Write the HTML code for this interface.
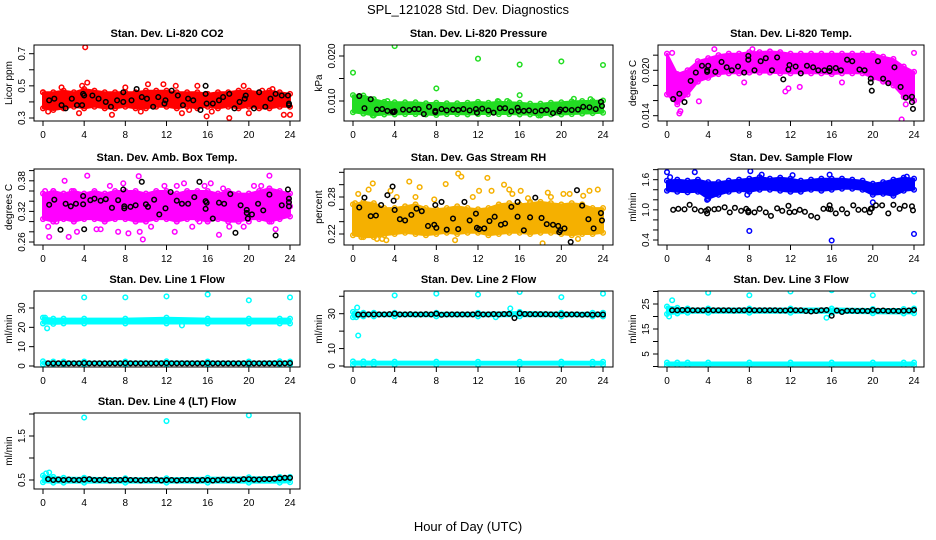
<!DOCTYPE html>
<html><head><meta charset="utf-8"><style>
body{margin:0;background:#fff;}
svg{display:block;font-family:"Liberation Sans",Arial,sans-serif;}
</style></head><body>
<svg id="chart" width="936" height="540" viewBox="0 0 936 540">
<text x="468" y="14" text-anchor="middle" font-size="13">SPL_121028  Std. Dev. Diagnostics</text>
<text x="468" y="531" text-anchor="middle" font-size="13">Hour of Day (UTC)</text>
</svg>
<script>
// ---- shared data ----
const HOURS=[0,1,2,3,4,5,6,7,8,9,10,11,12,13,14,15,16,17,18,19,20,21,22,23,24];
const HB=[0,1,2,4,8,12,16,20,23,24];
const BX=[0.5,1,1.5,2,2.5,3,3.5,4,4.5,5,5.5,6,6.5,7,7.5,8,8.5,9,9.5,10,10.5,11,11.5,12,12.5,13,13.5,14,14.5,15,15.5,16,16.5,17,17.5,18,18.5,19,19.5,20,20.5,21,21.5,22,22.5,23,23.5,24];
const XTICKS=[0,4,8,12,16,20,24];

// P1 CO2
const co2Lo=[0.36,0.35,0.36,0.37,0.36,0.37,0.36,0.36,0.37,0.36,0.36,0.37,0.37,0.36,0.37,0.36,0.37,0.36,0.37,0.36,0.37,0.36,0.36,0.37,0.37];
const co2Hi=[0.46,0.46,0.47,0.46,0.48,0.47,0.46,0.46,0.46,0.46,0.47,0.47,0.47,0.46,0.46,0.46,0.45,0.46,0.46,0.47,0.47,0.46,0.47,0.46,0.45];
const co2OutX=[0,0.5,1.8,3.5,4.1,4.3,6.7,9.5,10.2,11.7,13.5,15.0,15.9,18.1,19.5,20,22.3,23.4,24,8,14.2,12.9,3.8,16.4,21.3];
const co2OutY=[0.46,0.34,0.49,0.33,0.74,0.52,0.32,0.34,0.51,0.51,0.33,0.50,0.31,0.30,0.50,0.33,0.48,0.32,0.32,0.49,0.35,0.50,0.50,0.34,0.47];
const co2BX=[0.6,1.1,1.8,2.2,2.8,3.3,3.8,3.9,4.0,4.8,5.4,6.1,6.6,7.2,7.8,7.8,8.6,9.1,9.6,10.1,10.7,11.2,11.8,11.9,12.5,13.1,13.6,14.1,14.6,15.3,15.8,15.8,15.9,16.5,17.1,17.5,18.1,18.6,19.1,19.6,19.7,20.5,21.0,21.6,22.1,22.6,23.2,23.8,23.9,23.9];
const co2BY=[0.41,0.42,0.38,0.36,0.42,0.38,0.38,0.45,0.44,0.44,0.42,0.40,0.37,0.41,0.46,0.40,0.41,0.48,0.43,0.42,0.37,0.43,0.39,0.41,0.47,0.44,0.38,0.42,0.41,0.35,0.50,0.45,0.39,0.39,0.41,0.43,0.45,0.36,0.40,0.42,0.44,0.36,0.46,0.37,0.42,0.45,0.44,0.44,0.39,0.38];

// P2 pressure
const prLo=[0.0075,0.0072,0.0068,0.0070,0.0070,0.0071,0.0071,0.0070,0.0069,0.0071,0.0071,0.0070,0.0071,0.0071,0.0071,0.0071,0.0070,0.0070,0.0068,0.0070,0.0070,0.0071,0.0072,0.0073,0.0074];
const prHi=[0.0113,0.0112,0.0104,0.0098,0.0097,0.0097,0.0097,0.0095,0.0096,0.0095,0.0095,0.0096,0.0098,0.0096,0.0098,0.0097,0.0096,0.0094,0.0094,0.0096,0.0097,0.0099,0.0100,0.0100,0.0101];
const prOutX=[0,4,8,12,16,16,20,24,21.2,22.8,1.9,17.8,3.3,13.9,14.8];
const prOutY=[0.0163,0.0222,0.0128,0.0194,0.0181,0.0113,0.0188,0.0180,0.0105,0.0104,0.0068,0.0068,0.0100,0.0100,0.0100];
const prBX=[0.6,1.1,1.7,2.3,2.8,3.3,3.8,3.9,4.0,4.8,5.4,5.9,6.3,6.8,7.3,7.9,7.9,8.5,9.0,9.6,10.1,10.6,11.2,11.8,11.9,12.4,13.0,13.5,14.1,14.6,15.2,15.8,15.9,16.4,16.9,17.5,18.1,18.6,19.2,19.8,19.9,20.4,21.0,21.6,22.1,22.7,23.3,23.8,23.9];
const prBY=[0.0111,0.0084,0.0104,0.0081,0.0082,0.0078,0.0076,0.0075,0.0077,0.0081,0.0080,0.0082,0.0082,0.0071,0.0087,0.0078,0.0075,0.0082,0.0079,0.0081,0.0080,0.0082,0.0079,0.0082,0.0074,0.0083,0.0079,0.0074,0.0084,0.0084,0.0077,0.0085,0.0078,0.0078,0.0079,0.0077,0.0079,0.0080,0.0073,0.0077,0.0081,0.0081,0.0080,0.0081,0.0087,0.0086,0.0082,0.0098,0.0089];

// P3 Li-820 temp
const tLo=[0.0168,0.0155,0.0168,0.0185,0.0190,0.0195,0.0196,0.0196,0.0197,0.0197,0.0197,0.0196,0.0196,0.0196,0.0196,0.0196,0.0195,0.0196,0.0196,0.0196,0.0190,0.0185,0.0180,0.0165,0.0160];
const tHi=[0.0222,0.0195,0.0200,0.0212,0.0216,0.0220,0.0222,0.0222,0.0224,0.0224,0.0225,0.0224,0.0222,0.0222,0.0222,0.0222,0.0222,0.0222,0.0222,0.0222,0.0222,0.0218,0.0215,0.0205,0.0198];
const tOutX=[0.5,1.2,3.1,4.6,7.5,8.3,11.5,12.9,17.0,22.8,23.2,24,11.8,1.3,0.2];
const tOutY=[0.0223,0.0143,0.0159,0.0228,0.0184,0.0228,0.0172,0.0178,0.0184,0.0135,0.0155,0.0223,0.0176,0.0146,0.0170];
const tBX=[0.6,1.2,1.7,2.3,2.8,3.4,3.9,3.9,4.0,4.7,5.3,5.8,6.3,6.9,7.5,7.9,7.9,8.5,9.1,9.6,10.2,10.7,11.3,11.8,11.9,12.5,13.0,13.6,14.2,14.7,15.3,15.8,15.8,16.4,16.9,17.5,18.0,18.7,19.2,19.8,19.8,19.9,20.5,21.0,21.5,22.1,22.7,23.2,23.8,23.8,23.9];
const tBY=[0.0162,0.0169,0.0158,0.0186,0.0197,0.0206,0.0198,0.0200,0.0206,0.0198,0.0211,0.0204,0.0200,0.0205,0.0197,0.0219,0.0214,0.0200,0.0212,0.0216,0.0200,0.0217,0.0188,0.0201,0.0207,0.0205,0.0196,0.0206,0.0204,0.0200,0.0200,0.0203,0.0199,0.0203,0.0200,0.0214,0.0212,0.0201,0.0200,0.0189,0.0184,0.0173,0.0212,0.0189,0.0183,0.0204,0.0178,0.0164,0.0165,0.0158,0.0149];

// P4 ambient box temp
const aLo=[0.305,0.300,0.305,0.300,0.305,0.305,0.300,0.305,0.305,0.300,0.300,0.305,0.305,0.300,0.305,0.305,0.300,0.305,0.300,0.300,0.305,0.305,0.300,0.305,0.310];
const aHi=[0.355,0.360,0.355,0.360,0.355,0.360,0.355,0.360,0.360,0.360,0.355,0.360,0.360,0.355,0.360,0.360,0.360,0.355,0.360,0.355,0.355,0.360,0.365,0.360,0.355];
const aOutX=[0.2,0.5,0.6,1.3,2.1,2.5,3.3,4.3,5.2,5.6,7.3,7.8,8.3,9.3,9.7,9.4,11.8,12.8,13.7,15.2,16.3,17.1,17.5,18.1,20.0,21.2,22.0,22.6,22.2,24,20.5,6.5,13,15.7,1,2.8,19.5,10.5,14.5];
const aOutY=[0.36,0.29,0.27,0.30,0.38,0.27,0.28,0.39,0.285,0.285,0.28,0.375,0.277,0.389,0.265,0.28,0.37,0.28,0.375,0.30,0.375,0.274,0.365,0.29,0.30,0.37,0.39,0.285,0.30,0.33,0.37,0.37,0.37,0.37,0.36,0.36,0.29,0.29,0.29];
const aBX=[0.6,1.1,1.7,2.2,2.7,3.2,3.9,3.9,4.0,4.6,5.0,5.6,6.1,6.7,7.3,7.8,7.9,7.9,8.5,9.0,9.6,10.0,10.2,10.8,11.3,11.9,12.4,13.0,13.5,14.1,14.7,15.2,15.8,15.8,15.9,16.5,17.1,17.6,18.2,18.7,19.2,19.8,19.8,19.9,20.3,20.9,21.4,22.0,22.6,23.2,23.8,23.9,23.9,23.9];
const aBY=[0.333,0.343,0.284,0.335,0.330,0.335,0.350,0.334,0.285,0.342,0.345,0.341,0.344,0.327,0.342,0.363,0.330,0.326,0.329,0.332,0.378,0.334,0.329,0.343,0.314,0.326,0.358,0.341,0.335,0.335,0.348,0.378,0.340,0.325,0.337,0.306,0.337,0.335,0.354,0.278,0.332,0.323,0.317,0.306,0.314,0.335,0.322,0.353,0.273,0.332,0.363,0.338,0.345,0.330];

// P5 gas stream RH
const rhLo=[0.218,0.215,0.215,0.218,0.220,0.222,0.220,0.218,0.220,0.222,0.220,0.222,0.222,0.218,0.220,0.222,0.222,0.220,0.222,0.222,0.220,0.218,0.220,0.220,0.222];
const rhHi=[0.268,0.272,0.270,0.262,0.262,0.265,0.268,0.262,0.260,0.262,0.265,0.262,0.260,0.262,0.268,0.270,0.268,0.270,0.272,0.270,0.268,0.270,0.268,0.262,0.262];
const rhOutX=[0.2,0.8,1.9,2.3,3.2,3.6,5.4,6.4,7.8,8.9,10.1,10.4,11.5,12.1,12.9,14.5,15.0,16.1,17.0,18.7,19.0,20.2,21.6,22.7,23.5,0.5,2.8,4.2,9.8,13.3,16.8,20.8,1.5,6.0,22.1,15.3,18.2];
const rhOutY=[0.270,0.215,0.302,0.212,0.210,0.290,0.305,0.296,0.276,0.301,0.318,0.313,0.280,0.290,0.311,0.300,0.292,0.290,0.272,0.287,0.280,0.285,0.212,0.290,0.292,0.285,0.212,0.280,0.210,0.290,0.278,0.285,0.292,0.280,0.282,0.285,0.205];
const rhBX=[0.6,1.1,1.7,2.2,2.7,3.3,3.8,3.9,4.0,4.5,5.0,5.6,6.1,6.6,7.2,7.8,7.9,8.0,8.5,9.0,9.6,10.1,10.7,11.2,11.8,11.9,12.1,12.6,13.1,13.6,14.2,14.6,15.2,15.8,15.8,16.4,17.0,17.5,18.1,18.6,19.2,19.7,19.8,19.9,20.3,20.9,21.5,22.0,22.6,23.1,23.8,23.9];
const rhBY=[0.263,0.279,0.249,0.250,0.267,0.283,0.297,0.274,0.259,0.244,0.242,0.251,0.261,0.257,0.233,0.235,0.267,0.230,0.272,0.227,0.245,0.228,0.272,0.242,0.253,0.230,0.228,0.229,0.241,0.248,0.235,0.237,0.264,0.272,0.248,0.226,0.247,0.279,0.246,0.236,0.235,0.233,0.223,0.226,0.229,0.207,0.291,0.266,0.244,0.229,0.254,0.242];

// P6 sample flow
const sfLo=[1.38,1.36,1.35,1.36,1.22,1.30,1.36,1.38,1.36,1.40,1.40,1.38,1.36,1.36,1.40,1.38,1.40,1.42,1.42,1.40,1.30,1.32,1.28,1.38,1.40];
const sfHi=[1.58,1.60,1.58,1.60,1.55,1.55,1.58,1.60,1.62,1.65,1.62,1.64,1.62,1.58,1.60,1.62,1.62,1.62,1.60,1.58,1.52,1.55,1.60,1.64,1.62];
const sfOutX=[0,2.7,8.1,8,16,24,20,3.9,0.3,12.2,15.8,9.2,7.8,23.3];
const sfOutY=[1.75,1.75,1.77,0.58,0.39,0.52,1.15,1.20,1.65,1.69,1.70,1.70,1.30,1.66];
const sfBX=[0.6,1.1,1.7,2.2,2.7,3.3,3.8,3.9,4.0,4.6,5.0,5.6,6.1,6.6,7.2,7.7,7.9,7.9,8.5,9.0,9.6,10.1,10.7,11.2,11.8,11.9,12.4,12.9,13.4,14.0,14.6,15.2,15.7,15.8,15.9,16.4,17.0,17.5,18.1,18.6,19.2,19.7,19.8,19.9,20.3,20.9,21.5,22.0,22.6,23.1,23.8,23.9];
const sfBY=[1.0,1.02,1.01,1.1,1.01,0.98,0.98,0.93,1.01,1.01,1.02,1.05,0.95,1.04,0.98,1.02,0.95,0.98,0.95,1.02,0.95,0.88,1.03,0.98,1.08,0.95,0.96,1.0,0.96,0.88,0.85,1.02,1.02,1.09,1.01,0.93,1.01,0.93,1.09,1.0,1.0,0.95,1.02,1.03,1.09,1.09,0.93,1.1,1.02,1.08,1.07,0.99];

// P7 line 1 flow
const l1TopLo=[22,21.8,22,22,22,22,22,22,22,22];
const l1TopHi=[25,24.5,24.5,24.5,24.5,25,24.5,24.5,24.5,24.5];
const l1BotLo=[0.8,0.8,0.8,0.8,0.8,0.8,0.8,0.8,0.8,0.8];
const l1BotHi=[2.4,2.3,2.3,2.3,2.3,2.4,2.3,2.3,2.4,2.3];
const l1OutX=[0.2,0.4,4,8,12,16,20,24,13.5];
const l1OutY=[25,19.5,35.5,35.5,36,37,34,35.5,21];
const l1BY=[1.4,1.4,1.4,1.4,1.4,1.4,1.4,1.5,1.4,1.4,1.4,1.4,1.4,1.4,1.4,1.5,1.4,1.4,1.4,1.4,1.4,1.4,1.4,1.5,1.4,1.4,1.4,1.4,1.4,1.4,1.4,1.5,1.4,1.4,1.4,1.4,1.4,1.4,1.4,1.4,1.4,1.4,1.4,1.4,1.4,1.4,1.4,1.5];

// P8 line 2 flow
const l2TopLo=[28,28.5,28.5,28.5,28.5,28.5,28.5,28.5,28.5,28.5];
const l2TopHi=[31,30.5,30.5,30.5,30.5,30.5,31,30.5,30.5,30.5];
const l2BotLo=[0.8,0.8,0.8,0.8,0.8,0.8,0.8,0.8,0.8,0.8];
const l2BotHi=[2.6,2.6,2.5,2.5,2.5,2.4,2.4,2.5,2.4,2.4];
const l2OutX=[0.2,0.3,0.4,0.5,4,8,12,16,20,24,13.7,15.1];
const l2OutY=[30,28,33.5,17.5,40.5,41.5,41,42.5,39.5,41.5,28,33];
const l2BY=[29.5,29.5,29.6,29.6,29.6,29.6,29.7,30,29.6,29.6,29.7,29.6,29.6,29.7,29.6,30,29.4,29.6,29.6,29.6,29.6,29.6,29.6,29.9,29.6,29.6,29.8,29.6,29.8,29.9,27.5,30.2,29.8,29.7,29.7,29.7,29.7,29.6,29.6,29.6,29.6,29.6,29.6,29.4,29.6,29.4,29.6,29.5];

// P9 line 3 flow
const l3TopLo=[21,21.2,21.5,21.5,21.5,21.5,21.5,21.3,21.2,21.3];
const l3TopHi=[24,23.5,23.2,23.2,23.2,23.2,23.2,23.0,23.0,23.2];
const l3BotLo=[0.5,0.5,0.5,0.5,0.5,0.5,0.5,0.5,0.5,0.5];
const l3BotHi=[1.6,1.6,1.6,1.6,1.6,1.6,1.6,1.6,1.6,1.6];
const l3OutX=[0.2,0.5,4,8,12,16,20,24,15.5];
const l3OutY=[20,26.5,29.5,28.5,30,30.5,28.5,30,19.5];
const l3BY=[22.5,22.5,22.6,22.6,22.5,22.5,22.5,22.6,22.5,22.5,22.5,22.5,22.4,22.5,22.5,22.6,22.5,22.5,22.5,22.5,22.5,22.4,22.4,22.6,22.5,22.5,22.2,22.0,22.2,22.5,22.6,20.3,22.4,21.8,22.3,22.3,22.2,22.3,22.2,22.6,22.3,22.4,22.2,22.3,22.2,22.3,22.4,22.6];

// P10 line 4 flow
const l4Lo=[0.45,0.44,0.44,0.44,0.44,0.44,0.44,0.44,0.44,0.45];
const l4Hi=[0.60,0.57,0.55,0.55,0.54,0.54,0.55,0.56,0.57,0.57];
const l4OutX=[0.3,0.6,4,12,20];
const l4OutY=[0.65,0.67,1.92,1.84,1.97];
const l4BY=[0.52,0.50,0.51,0.50,0.51,0.50,0.50,0.51,0.52,0.50,0.50,0.51,0.49,0.50,0.50,0.51,0.50,0.50,0.49,0.50,0.50,0.51,0.49,0.50,0.50,0.49,0.50,0.50,0.50,0.49,0.50,0.50,0.49,0.50,0.51,0.50,0.51,0.50,0.52,0.52,0.51,0.51,0.52,0.52,0.53,0.54,0.55,0.55];

// ---- layout (not data) ----
const COLL=[34,344,658], COLR=[300,613,924], ROWT=[45,169,291,413], PH=76;
const panels=[
 {key:'co2',title:'Stan. Dev. Li-820 CO2',ylab:'Licor ppm',c:0,r:0,ref:[0.3,73,0.7,8.7],ticks:[0.3,0.4,0.5,0.6,0.7],labs:['0.3','','0.5','','0.7'],col:'#ff0000',
  bands:[[HOURS,co2Lo,co2Hi]],ox:co2OutX,oy:co2OutY,bx:co2BX,by:co2BY},
 {key:'pressure',title:'Stan. Dev. Li-820 Pressure',ylab:'kPa',c:1,r:0,ref:[0.010,56,0.020,11],ticks:[0.010,0.015,0.020],labs:['0.010','','0.020'],col:'#22dd22',
  bands:[[HOURS,prLo,prHi]],ox:prOutX,oy:prOutY,bx:prBX,by:prBY},
 {key:'li820-temp',title:'Stan. Dev. Li-820 Temp.',ylab:'degrees C',c:2,r:0,ref:[0.014,70.7,0.020,25.3],ticks:[0.014,0.016,0.018,0.020,0.022],labs:['0.014','','','0.020',''],col:'#ff00ff',
  bands:[[HOURS,tLo,tHi]],ox:tOutX,oy:tOutY,bx:tBX,by:tBY},
 {key:'amb-box-temp',title:'Stan. Dev. Amb. Box Temp.',ylab:'degrees C',c:0,r:1,ref:[0.26,73,0.38,11.8],ticks:[0.26,0.28,0.30,0.32,0.34,0.36,0.38,0.40],labs:['0.26','','','0.32','','','0.38',''],col:'#ff00ff',
  bands:[[HOURS,aLo,aHi]],ox:aOutX,oy:aOutY,bx:aBX,by:aBY},
 {key:'gas-rh',title:'Stan. Dev. Gas Stream RH',ylab:'percent',c:1,r:1,ref:[0.22,65,0.28,28],ticks:[0.22,0.24,0.26,0.28,0.30,0.32],labs:['0.22','','','0.28','',''],col:'#f5b000',
  bands:[[HOURS,rhLo,rhHi]],ox:rhOutX,oy:rhOutY,bx:rhBX,by:rhBY},
 {key:'sample-flow',title:'Stan. Dev. Sample Flow',ylab:'ml/min',c:2,r:1,ref:[0.4,71,1.6,10.7],ticks:[0.4,0.6,0.8,1.0,1.2,1.4,1.6,1.8],labs:['0.4','','','1.0','','','1.6',''],col:'#0000ff',
  bands:[[HOURS,sfLo,sfHi]],ox:sfOutX,oy:sfOutY,bx:sfBX,by:sfBY},
 {key:'line1-flow',title:'Stan. Dev. Line 1 Flow',ylab:'ml/min',c:0,r:2,ref:[0,75,30,17],ticks:[0,10,20,30],labs:['0','10','20','30'],col:'#00ffff',
  bands:[[HB,l1TopLo,l1TopHi],[HB,l1BotLo,l1BotHi]],ox:l1OutX,oy:l1OutY,bx:BX,by:l1BY},
 {key:'line2-flow',title:'Stan. Dev. Line 2 Flow',ylab:'ml/min',c:1,r:2,ref:[0,75,30,22.7],ticks:[0,10,20,30,40],labs:['0','10','','30',''],col:'#00ffff',
  bands:[[HB,l2TopLo,l2TopHi],[HB,l2BotLo,l2BotHi]],ox:l2OutX,oy:l2OutY,bx:BX,by:l2BY},
 {key:'line3-flow',title:'Stan. Dev. Line 3 Flow',ylab:'ml/min',c:2,r:2,ref:[5,63,25,13],ticks:[0,5,10,15,20,25,30],labs:['','5','','15','','25',''],col:'#00ffff',
  bands:[[HB,l3TopLo,l3TopHi],[HB,l3BotLo,l3BotHi]],ox:l3OutX,oy:l3OutY,bx:BX,by:l3BY},
 {key:'line4-flow',title:'Stan. Dev. Line 4 (LT) Flow',ylab:'ml/min',c:0,r:3,ref:[0.5,67,1.5,23],ticks:[0.5,1.0,1.5,2.0],labs:['0.5','','1.5',''],col:'#00ffff',
  bands:[[HB,l4Lo,l4Hi]],ox:l4OutX,oy:l4OutY,bx:BX,by:l4BY}
];
const NS='http://www.w3.org/2000/svg';
const svg=document.getElementById('chart');
function mk(tag,attrs,parent){const e=document.createElementNS(NS,tag);for(const k in attrs)e.setAttribute(k,attrs[k]);parent.appendChild(e);return e;}

panels.forEach(p=>{
  const L=COLL[p.c],R=COLR[p.c],T=ROWT[p.r],B=T+PH;
  const xs=v=>L+9+v*(R-L-19)/24;
  const ys=v=>T+p.ref[1]+(v-p.ref[0])*(p.ref[3]-p.ref[1])/(p.ref[2]-p.ref[0]);
  const g=mk('g',{},svg);
  
  
  const t=mk('text',{x:(L+R)/2,y:T-8,'text-anchor':'middle','font-size':11,'font-weight':'bold'},g);
  t.textContent=p.title;
  
  
  const clip=mk('clipPath',{id:'clip-'+p.key},g);
  mk('rect',{x:L,y:T,width:R-L,height:PH},clip);
  const plot=mk('g',{'clip-path':'url(#clip-'+p.key+')'},g);
  
  
  p.bands.forEach((b,bi)=>{
    const [hx,lo,hi]=b;
    let d='';
    hx.forEach((h,i)=>{d+=(i?'L':'M')+xs(h).toFixed(1)+','+ys(hi[i]).toFixed(1);});
    for(let i=hx.length-1;i>=0;i--)d+='L'+xs(hx[i]).toFixed(1)+','+ys(lo[i]).toFixed(1);
    const poly=mk('path',{d:d+'Z',fill:p.col,stroke:p.col,'stroke-width':2,'stroke-linejoin':'round'},plot);
    
    
    hx.forEach((h,i)=>{
      [lo[i],hi[i]].forEach(v=>{
        const c=mk('circle',{cx:xs(h),cy:ys(v),r:2.3,fill:'none',stroke:p.col,'stroke-width':1.5},plot);
        
        
      });
    });
  });
  const no=Math.min(p.ox.length,p.oy.length);
  for(let i=0;i<no;i++){
    const c=mk('circle',{cx:xs(p.ox[i]),cy:ys(p.oy[i]),r:2.3,fill:'none',stroke:p.col,'stroke-width':1.5},plot);
    
    
  }
  const nb=Math.min(p.bx.length,p.by.length);
  for(let i=0;i<nb;i++){
    const c=mk('circle',{cx:xs(p.bx[i]),cy:ys(p.by[i]),r:2.3,fill:'none',stroke:'#000','stroke-width':1.5},plot);
    
    
  }
  const box=mk('rect',{x:L,y:T,width:R-L,height:PH,fill:'none',stroke:'#000','stroke-width':1},g);
  
  
  const xa=mk('g',{},g);
  
  
  mk('line',{x1:xs(XTICKS[0]),x2:xs(XTICKS[XTICKS.length-1]),y1:B,y2:B,stroke:'#000'},xa);
  XTICKS.forEach(v=>{
    mk('line',{x1:xs(v),x2:xs(v),y1:B,y2:B+5,stroke:'#000'},xa);
    const tl=mk('text',{x:xs(v),y:B+17,'text-anchor':'middle','font-size':10},xa);
    tl.textContent=v;
    
    
  });
  const ya=mk('g',{},g);
  
  
  const tk=p.ticks.filter(v=>ys(v)>=T-1&&ys(v)<=B+1);
  mk('line',{x1:L,x2:L,y1:ys(tk[0]),y2:ys(tk[tk.length-1]),stroke:'#000'},ya);
  p.ticks.forEach((v,i)=>{
    const y=ys(v); if(y<T-1||y>B+1)return;
    mk('line',{x1:L-5,x2:L,y1:y,y2:y,stroke:'#000'},ya);
    if(p.labs[i]){
      const tl=mk('text',{x:L-9,y:y,'text-anchor':'middle','font-size':10,transform:'rotate(-90 '+(L-9)+' '+y+')'},ya);
      tl.textContent=p.labs[i];
      
      
    }
  });
  const yl=mk('text',{x:L-22,y:(T+B)/2,'text-anchor':'middle','font-size':10,transform:'rotate(-90 '+(L-22)+' '+((T+B)/2)+')'},g);
  yl.textContent=p.ylab;
  
  
});
</script>
</body></html>
